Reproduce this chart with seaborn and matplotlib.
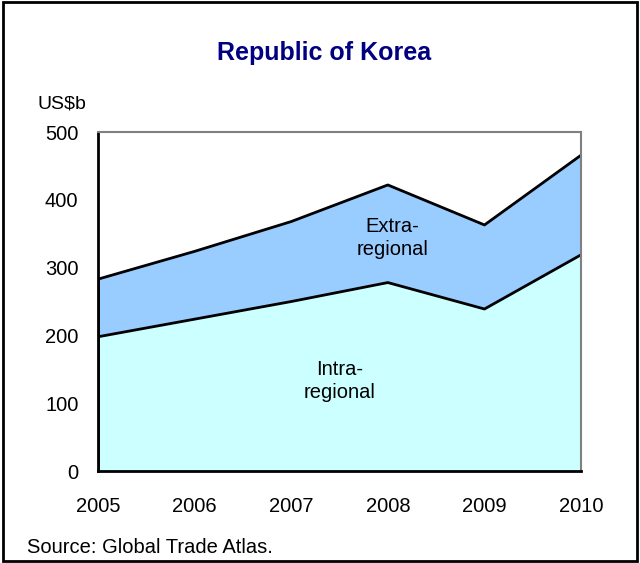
import matplotlib.pyplot as plt
import seaborn as sns
import pandas as pd
from matplotlib.patches import Rectangle

# values, US$ billion
years = [2005, 2006, 2007, 2008, 2009, 2010]
intra = [198, 224, 250, 278, 239, 319]
extra = [85, 100, 118, 144, 124, 147]

df = pd.DataFrame({'year': years, 'intra': intra, 'extra': extra})
df['total'] = df['intra'] + df['extra']

sns.set_style('white')
plt.rcParams['font.family'] = ['Liberation Sans', 'DejaVu Sans']
plt.rcParams['text.color'] = 'black'

fig = plt.figure(figsize=(6.4, 5.63), dpi=100)
ax = fig.add_axes([0.153, 0.1634, 0.755, 0.602])

# stacked areas
ax.fill_between(df['year'], 0, df['intra'], color='#CCFFFF', lw=0)
ax.fill_between(df['year'], df['intra'], df['total'], color='#99CCFF', lw=0)
sns.lineplot(data=df, x='year', y='intra', ax=ax, color='black', lw=2)
sns.lineplot(data=df, x='year', y='total', ax=ax, color='black', lw=2)
ax.vlines([years[0], years[-1]], 0, [df['total'].iloc[0], df['total'].iloc[-1]], color='black', lw=2)

ax.set_xlim(2005, 2010)
ax.set_ylim(0, 500)
ax.set_yticks([0, 100, 200, 300, 400, 500])
ax.set_xticks(years)
ax.set_xlabel('')
ax.set_ylabel('')
ax.tick_params(axis='both', labelsize=14.5, colors='black', direction='out', length=6, width=1.5)
ax.tick_params(axis='x', pad=13)
ax.tick_params(axis='y', pad=8)

for s in ['left', 'bottom']:
    ax.spines[s].set_color('black')
    ax.spines[s].set_linewidth(2)
for s in ['top', 'right']:
    ax.spines[s].set_color('#808080')
    ax.spines[s].set_linewidth(1.5)

ax.text(2008.05, 344, 'Extra-\nregional', ha='center', va='center', fontsize=14.5,
        color='black', linespacing=1.3)
ax.text(2007.5, 133, 'Intra-\nregional', ha='center', va='center', fontsize=14.5,
        color='black', linespacing=1.3)

fig.text(0.506, 0.905, 'Republic of Korea', ha='center', va='center', fontsize=18,
         fontweight='bold', color='#000080')
fig.text(0.058, 0.816, 'US$b', ha='left', va='center', fontsize=14, color='black')
fig.text(0.042, 0.027, 'Source: Global Trade Atlas.', ha='left', va='center', fontsize=14.5,
         color='black')

fig.patches.append(Rectangle((0.004, 0.004), 0.992, 0.992, transform=fig.transFigure,
                             fill=False, edgecolor='black', lw=2))

fig.savefig('out.png', dpi=100)
